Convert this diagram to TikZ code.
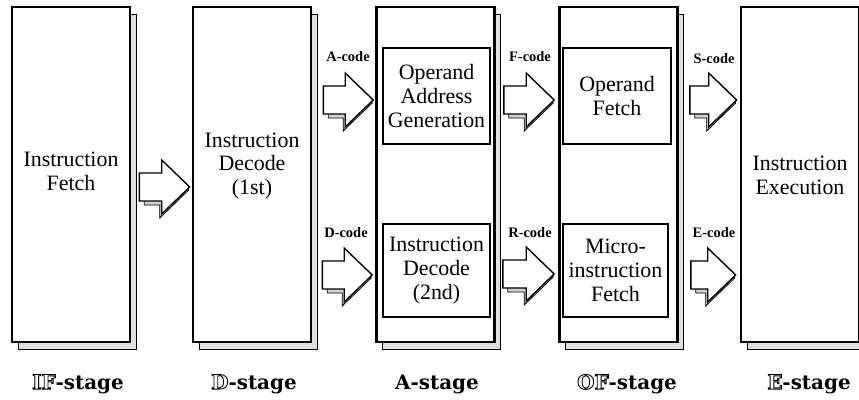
\documentclass[tikz,border=0pt]{standalone}
\usepackage{fontspec}
\setmainfont{Liberation Serif}
\newfontfamily\stagefont{DejaVu Serif}
\usetikzlibrary{shadows,calc}
\tikzset{
  stagebox/.style={draw=black, line width=2.6bp, fill=white, minimum width=118bp,
    minimum height=335bp, inner sep=0pt,
    drop shadow={shadow xshift=6bp, shadow yshift=-7bp, fill=gray!25, draw=black,
      line width=0.7bp, opacity=1}},
  innerbox/.style={draw=black, line width=1.2bp, fill=white, inner sep=0pt,
    align=center, font=\fontsize{22}{24}\selectfont},
  boxtext/.style={align=center, inner sep=0pt, font=\fontsize{22}{24}\selectfont},
  codelbl/.style={inner sep=0pt, font=\bfseries\fontsize{14.5}{15}\selectfont},
  stagelbl/.style={inner sep=0pt, font=\stagefont\bfseries\fontsize{20}{22}\selectfont},
  arrshadow/.style={fill=gray!35, draw=black, line width=0.8bp, line join=miter},
  arrbody/.style={fill=white, draw=black, line width=1.4bp, line join=miter},
}
\newcommand\blockarr[2]{%
  \path[arrshadow] let \p1=(#1), \p2=(#2) in
    (\x1+5bp,\y1-12bp) -- (\x1+5bp,\y1-18bp) -- (\x2-30bp,\y1-18bp) -- (\x2-30bp,\y1-31bp)
    -- (\x2-1bp,\y1-3bp) -- (\x2-2bp,\y1) -- (\x2-28bp,\y1-12bp) -- cycle;
  \path[arrbody] let \p1=(#1), \p2=(#2) in
    (\x1,\y1+14bp) -- (\x2-28bp,\y1+14bp) -- (\x2-28bp,\y1+27bp) -- (\x2,\y1)
    -- (\x2-28bp,\y1-27bp) -- (\x2-28bp,\y1-14bp) -- (\x1,\y1-14bp) -- cycle;
}
\newcommand\outl[1]{\special{pdf:literal 1 Tr 0.9 w}#1\special{pdf:literal 0 Tr}}
\begin{document}
\begin{tikzpicture}[x=1bp,y=-1bp]
\useasboundingbox (0,0) rectangle (859,399);
% stage boxes
\node[stagebox] (IF) at (71,174.5) {};
\node[stagebox] (D)  at (252,174.5) {};
\node[stagebox] (A)  at (435.5,174.5) {};
\node[stagebox] (OF) at (618.5,174.5) {};
\node[stagebox] (E)  at (800,174.5) {};
% stage texts
\node[boxtext] (tIF) at (71,171) {Instruction\\Fetch};
\node[boxtext] (tD)  at (252,166) {Instruction\\Decode\\(1st)};
\node[boxtext] (tE)  at (800,175) {Instruction\\Execution};
% inner boxes
\node[innerbox, minimum width=107bp, minimum height=96bp] (OAG) at (436.5,96) {Operand\\Address\\Generation};
\node[innerbox, minimum width=107bp, minimum height=93bp] (ID2) at (436.5,270.5) {Instruction\\Decode\\(2nd)};
\node[innerbox, minimum width=108bp, minimum height=96bp] (OPF) at (617,96) {Operand\\Fetch};
\node[innerbox, minimum width=105bp, minimum height=93bp] (MIF) at (615.5,270.5) {Micro-\\instruction\\Fetch};
% arrow end points
\coordinate (s1) at ($(IF.east |- 0,187)+(8,0)$);  \coordinate (e1) at ($(D.west |- 0,187)+(-2,0)$);
\coordinate (s2) at ($(D.east |- 0,100)+(11,0)$);  \coordinate (e2) at ($(A.west |- 0,100)+(-2,0)$);
\coordinate (s3) at ($(D.east |- 0,275)+(10,0)$);  \coordinate (e3) at ($(A.west |- 0,275)+(-3,0)$);
\coordinate (s4) at ($(A.east |- 0,100)+(8,0)$);   \coordinate (e4) at ($(OF.west |- 0,100)+(-4,0)$);
\coordinate (s5) at ($(A.east |- 0,274)+(7,0)$);   \coordinate (e5) at ($(OF.west |- 0,274)+(-4,0)$);
\coordinate (s6) at ($(OF.east |- 0,100)+(11,0)$); \coordinate (e6) at ($(E.west |- 0,100)+(-3,0)$);
\coordinate (s7) at ($(OF.east |- 0,275)+(12,0)$); \coordinate (e7) at ($(E.west |- 0,275)+(-4,0)$);
\blockarr{s1}{e1}
\blockarr{s2}{e2}
\blockarr{s3}{e3}
\blockarr{s4}{e4}
\blockarr{s5}{e5}
\blockarr{s6}{e6}
\blockarr{s7}{e7}
% code labels
\node[codelbl] (lA) at (348,57) {A-code};
\node[codelbl] (lD) at (346,233) {D-code};
\node[codelbl] (lF) at (530,57) {F-code};
\node[codelbl] (lR) at (530,233) {R-code};
\node[codelbl] (lS) at (714,59) {S-code};
\node[codelbl] (lE) at (714,233) {E-code};
% stage labels
\node[stagelbl] (sIF) at (78,384) {\outl{IF}-stage};
\node[stagelbl] (sD)  at (254,384) {\outl{D}-stage};
\node[stagelbl] (sA)  at (437,384) {A-stage};
\node[stagelbl] (sOF) at (627,384) {\outl{OF}-stage};
\node[stagelbl] (sE)  at (809,384) {\outl{E}-stage};
\end{tikzpicture}
\end{document}
